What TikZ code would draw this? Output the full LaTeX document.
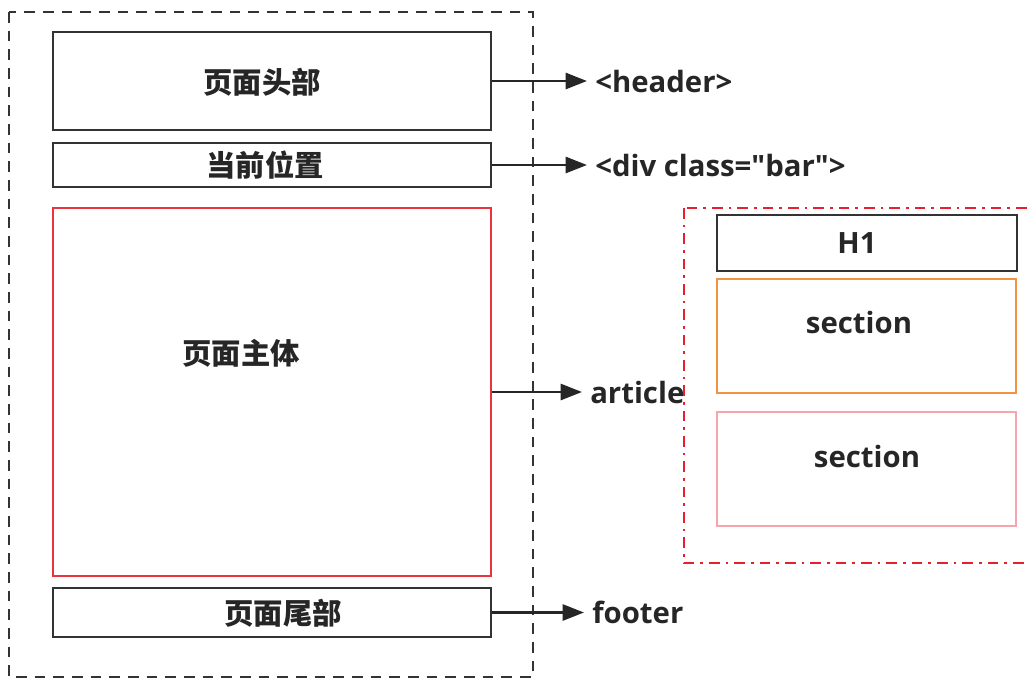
\documentclass[tikz,border=0pt]{standalone}
\usepackage{fontspec}
\setmainfont{Open Sans}
\newfontfamily\cjk{Noto Sans CJK SC}
\usetikzlibrary{arrows.meta}
\definecolor{ink}{HTML}{262626}
\definecolor{boxline}{HTML}{333333}
\definecolor{mainred}{HTML}{E8343F}
\definecolor{dotred}{HTML}{E8202E}
\definecolor{secorange}{HTML}{F39240}
\definecolor{secpink}{HTML}{F6A5AE}
\tikzset{
  box/.style={draw=boxline, line width=2pt, minimum width=328.5pt, inner sep=0pt},
  cjktxt/.style={text=ink, font=\cjk\bfseries\fontsize{22}{26}\selectfont, inner sep=0pt},
  lattxt/.style={text=ink, font=\bfseries\fontsize{22}{26}\selectfont, inner sep=0pt},
  tag/.style={lattxt, anchor=west, inner xsep=6pt},
  arr/.style={draw=ink, line width=2pt, -{Triangle[length=16pt,width=12pt]}},
  outerdash/.style={draw=boxline, line width=2pt, dash pattern=on 8pt off 6pt},
  reddashdot/.style={draw=dotred, line width=2pt, dash pattern=on 8pt off 4.5pt on 2pt off 4.5pt},
}
\begin{document}
\begin{tikzpicture}[x=0.75pt, y=-0.75pt]
\useasboundingbox (0,0) rectangle (1027,679);
\clip (0,0) rectangle (1027,679);
% outer dashed container
\draw[outerdash] (9,12) rectangle (533,677);
% left boxes
\node[box, minimum height=73.5pt] (hdr) at (272,81) {};
\node[box, minimum height=33pt] (bar) at (272,165) {};
\node[box, draw=mainred, minimum height=276pt] (main) at (272,392) {};
\node[box, minimum height=36.75pt] (ftr) at (272,612.5) {};
\node[cjktxt] (hdrt) at (262,82) {页面头部};
\node[cjktxt] (bart) at (265,165) {当前位置};
\node[cjktxt] (maint) at (241,353) {页面主体};
\node[cjktxt] (ftrt) at (283,613) {页面尾部};
% tags
\node[tag] (hdrl) at (587,81) {<header>};
\node[tag] (barl) at (587,165) {<div class=\textquotedbl bar\textquotedbl>};
\node[tag] (mainl) at (582,392) {article};
\node[tag] (ftrl) at (584,612.5) {footer};
\draw[arr] (hdr.east) -- (hdrl.west);
\draw[arr] (bar.east) -- (barl.west);
\draw[arr] (main.east) -- (mainl.west);
\draw[arr] (ftr.east) -- (ftrl.west);
% article detail
\draw[reddashdot] (684,208) rectangle (1045,563);
\node[box, minimum width=225pt, minimum height=42pt] (h1) at (867,243) {};
\node[box, draw=secorange, minimum width=224.25pt, minimum height=85.5pt] (sec1) at (866.5,336) {};
\node[box, draw=secpink, minimum width=224.25pt, minimum height=85.5pt] (sec2) at (866.5,469) {};
\node[lattxt] (h1t) at (857,243) {H1};
\node[lattxt] (sec1t) at (859,322) {section};
\node[lattxt] (sec2t) at (867,456) {section};
\end{tikzpicture}
\end{document}
